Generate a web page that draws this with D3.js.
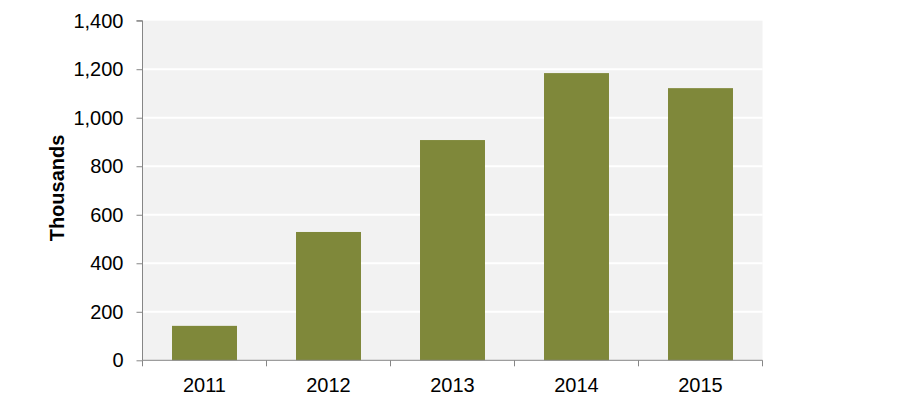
<!DOCTYPE html>
<html><head><meta charset="utf-8">
<script src="https://cdn.jsdelivr.net/npm/d3@7"></script>
<style>body{margin:0;background:#fff;} svg{display:block;font-family:"Liberation Sans",Arial,sans-serif;}</style>
</head><body>
<svg id="c" width="903" height="405"></svg>
<script>
const categories = ["2011","2012","2013","2014","2015"];
const values = [142, 529, 908, 1184, 1122];
const yTicks = [0,200,400,600,800,1000,1200,1400];
const yLabel = "Thousands";

const svg = d3.select("#c");
const m = {l:142.5, r:762.5, t:20.7, b:360.3};
const x = d3.scaleBand().domain(categories).range([m.l, m.r]).paddingInner(0.476).paddingOuter(0.238);
const y = d3.scaleLinear().domain([0,1400]).range([m.b, m.t]);

svg.append("rect").attr("x", m.l).attr("y", y(1400)).attr("width", m.r - m.l).attr("height", m.b - y(1400)).attr("fill", "#f2f2f2");

svg.append("g").selectAll("line").data(yTicks.filter(d => d > 0 && d < 1400)).join("line")
  .attr("x1", m.l).attr("x2", m.r).attr("y1", d => y(d)).attr("y2", d => y(d))
  .attr("stroke", "#fff").attr("stroke-width", 2);

svg.append("g").selectAll("rect").data(values).join("rect")
  .attr("x", (d,i) => x(categories[i])).attr("width", x.bandwidth())
  .attr("y", d => y(d)).attr("height", d => y(0) - y(d)).attr("fill", "#7f883a");

const yAxis = d3.axisLeft(y).tickValues(yTicks).tickFormat(d3.format(",")).tickSize(6).tickPadding(13);
const gy = svg.append("g").attr("transform", `translate(${m.l},0)`).call(yAxis);
gy.select(".domain").attr("stroke", "#868686").attr("d", `M-6,${y(1400)}H0V${y(0)}`);
gy.selectAll(".tick line").attr("stroke", "#868686");
gy.selectAll(".tick text").attr("fill", "#000").style("font-size", "20px").style("font-family", "Liberation Sans, Arial, sans-serif");

// x axis
const bounds = d3.range(categories.length + 1).map(i => m.l + i * (m.r - m.l) / categories.length);
svg.append("line").attr("x1", m.l).attr("x2", m.r).attr("y1", y(0)).attr("y2", y(0)).attr("stroke", "#868686");
svg.append("g").selectAll("line").data(bounds).join("line")
  .attr("x1", d => d).attr("x2", d => d).attr("y1", y(0)).attr("y2", y(0) + 6).attr("stroke", "#868686");
svg.append("g").selectAll("text").data(categories).join("text")
  .attr("x", d => x(d) + x.bandwidth()/2).attr("y", y(0) + 32)
  .attr("text-anchor", "middle").attr("font-size", 20).attr("fill", "#000").text(d => d);

svg.append("text").attr("transform", `translate(63.5,188) rotate(-90)`)
  .attr("text-anchor", "middle").attr("font-size", 20).attr("font-weight", "bold").text(yLabel);
</script>
</body></html>
